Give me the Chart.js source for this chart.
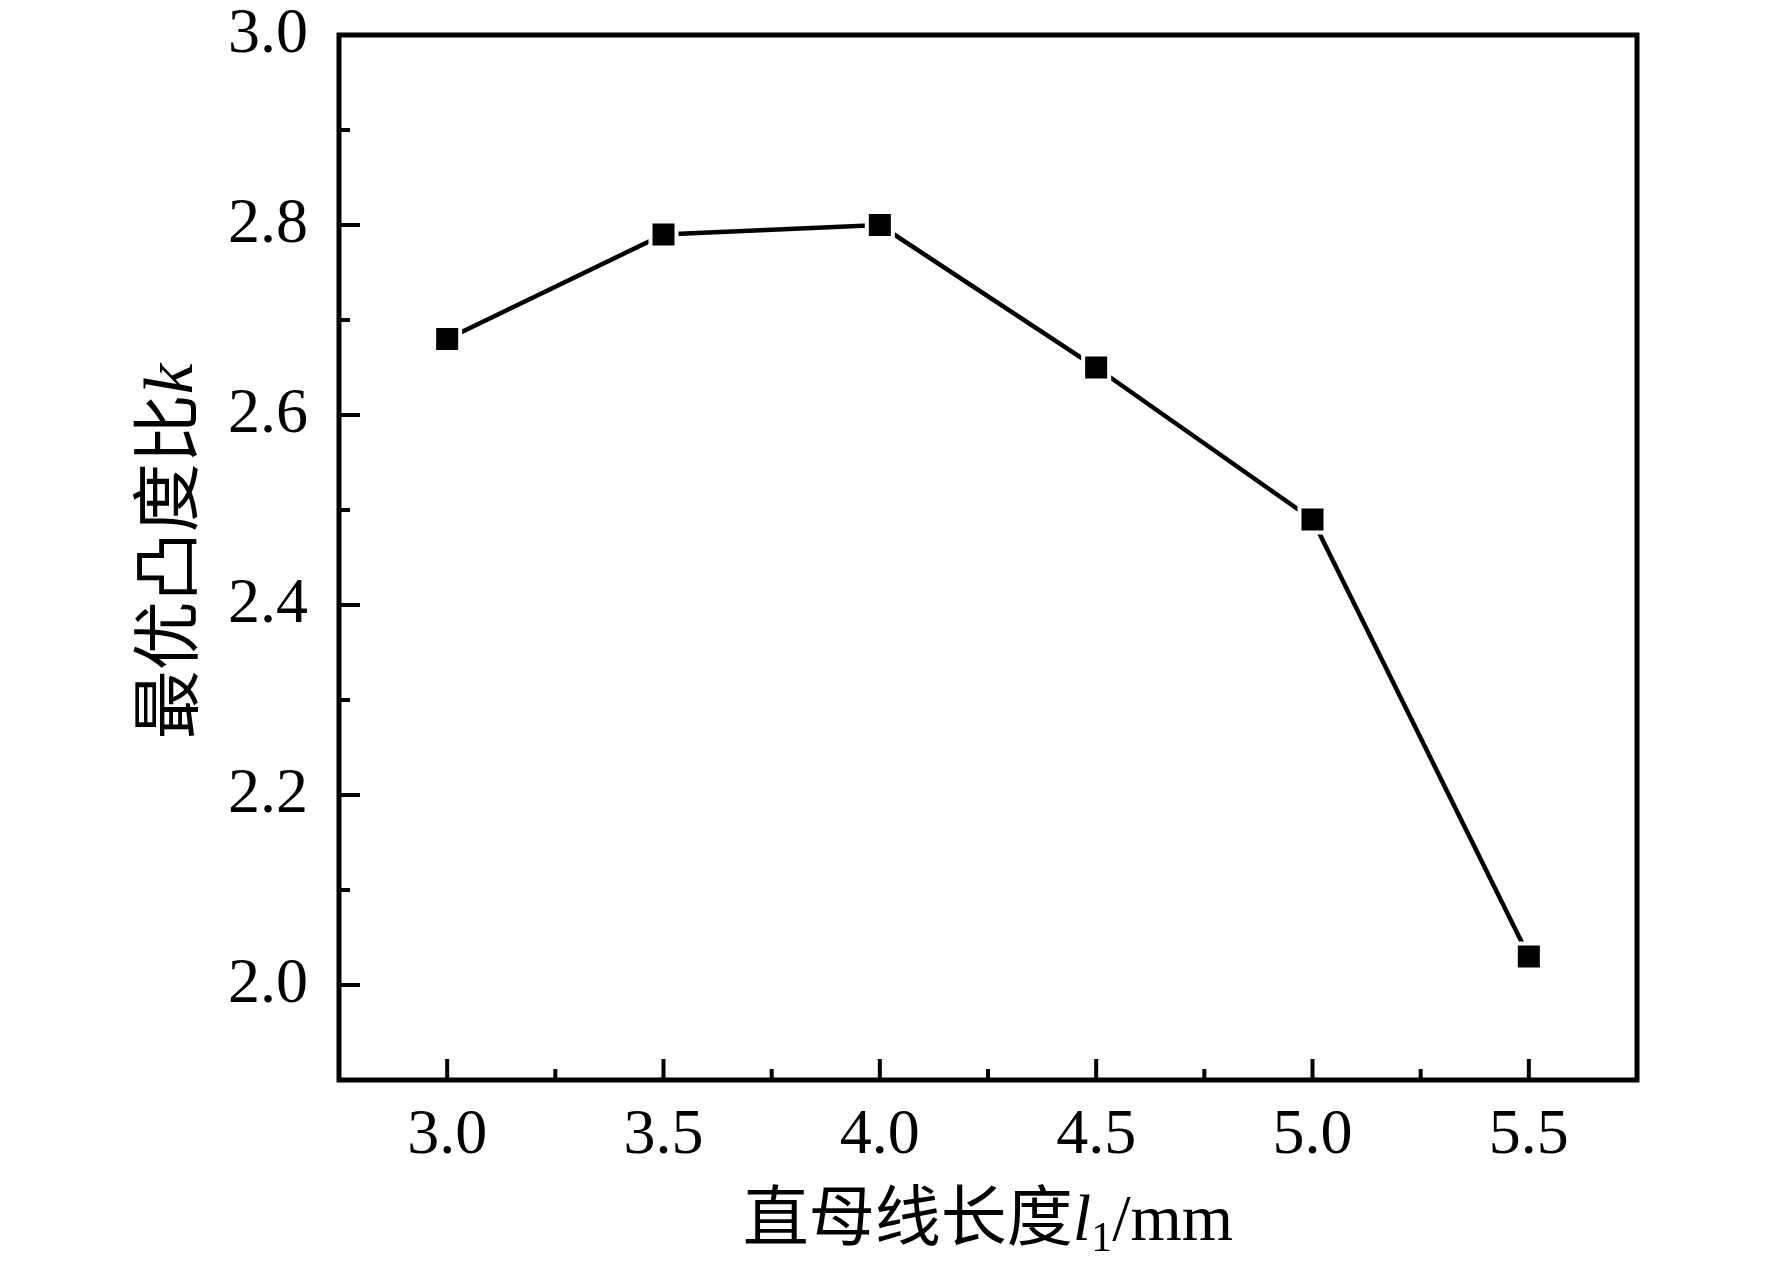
<!DOCTYPE html>
<html><head><meta charset="utf-8">
<script src="https://cdn.jsdelivr.net/npm/chart.js@4.4.0/dist/chart.umd.min.js"></script>
<style>html,body{margin:0;padding:0;background:#fff;}#wrap{width:1772px;height:1272px;}</style>
</head><body><div id="wrap"><canvas id="c" width="1772" height="1272"></canvas></div>
<script>
const xValues = [3.0, 3.5, 4.0, 4.5, 5.0, 5.5];
const kValues = [2.68, 2.79, 2.80, 2.65, 2.49, 2.03];
const xTickLabels = ['3.0', '3.5', '4.0', '4.5', '5.0', '5.5'];
const yTickLabels = ['2.0', '2.2', '2.4', '2.6', '2.8', '3.0'];
const xMinorTicks = [3.25, 3.75, 4.25, 4.75, 5.25];
const yMinorTicks = [2.1, 2.3, 2.5, 2.7, 2.9];
const xTitleParts = [
  {t: '直母线长度', f: '66px "Noto Sans CJK SC"', dy: 0},
  {t: 'l', f: 'italic 66px "Liberation Serif"', dy: 0},
  {t: '1', f: '42px "Liberation Serif"', dy: 11},
  {t: '/mm', f: '66px "Liberation Serif"', dy: 0}
];
const yTitleParts = [
  {t: '最优凸度比', f: '69px "Noto Sans CJK SC"', dy: 0},
  {t: 'k', f: 'italic 69px "Liberation Serif"', dy: 0}
];

const serif = '"Liberation Serif", "Times New Roman", serif';

function drawParts(ctx, parts, cx, baseline) {
  let total = 0;
  parts.forEach(p => { ctx.font = p.f; p.w = ctx.measureText(p.t).width; total += p.w; });
  let x = cx - total / 2;
  ctx.textBaseline = 'alphabetic';
  ctx.textAlign = 'left';
  ctx.fillStyle = '#000';
  parts.forEach(p => { ctx.font = p.f; ctx.fillText(p.t, x, baseline + p.dy); x += p.w; });
}

const framePlugin = {
  id: 'frame',
  afterDraw(chart) {
    const ctx = chart.ctx;
    const a = chart.chartArea;
    const xs = chart.scales.x, ys = chart.scales.y;
    ctx.save();
    ctx.strokeStyle = '#000';
    ctx.lineCap = 'butt';
    ctx.lineWidth = 4;
    const major = 21, minor = 11;
    xTickLabels.forEach(v => {
      const px = xs.getPixelForValue(parseFloat(v));
      ctx.beginPath(); ctx.moveTo(px, a.bottom); ctx.lineTo(px, a.bottom - major); ctx.stroke();
    });
    xMinorTicks.forEach(v => {
      const px = xs.getPixelForValue(v);
      ctx.beginPath(); ctx.moveTo(px, a.bottom); ctx.lineTo(px, a.bottom - minor); ctx.stroke();
    });
    yTickLabels.forEach(v => {
      const py = ys.getPixelForValue(parseFloat(v));
      ctx.beginPath(); ctx.moveTo(a.left, py); ctx.lineTo(a.left + major, py); ctx.stroke();
    });
    yMinorTicks.forEach(v => {
      const py = ys.getPixelForValue(v);
      ctx.beginPath(); ctx.moveTo(a.left, py); ctx.lineTo(a.left + minor, py); ctx.stroke();
    });
    ctx.lineWidth = 5;
    ctx.lineJoin = 'miter';
    ctx.strokeRect(a.left, a.top, a.right - a.left, a.bottom - a.top);
    drawParts(ctx, xTitleParts, (a.left + a.right) / 2, 1240);
    ctx.translate(166, (a.top + a.bottom) / 2 - 6);
    ctx.rotate(-Math.PI / 2);
    drawParts(ctx, yTitleParts, 0, 26);
    ctx.restore();
  }
};

new Chart(document.getElementById('c'), {
  type: 'line',
  data: {
    datasets: [{
      data: xValues.map((x, i) => ({x: x, y: kValues[i]})),
      borderColor: '#000',
      borderWidth: 4.5,
      tension: 0,
      fill: false,
      pointStyle: 'rect',
      pointRadius: 18.4,
      pointHoverRadius: 18.4,
      pointBackgroundColor: '#000',
      pointBorderColor: '#fff',
      pointBorderWidth: 4
    }]
  },
  options: {
    responsive: false,
    devicePixelRatio: 1,
    animation: false,
    layout: {padding: {left: 0, right: 135, top: 35, bottom: 0}},
    plugins: {legend: {display: false}, tooltip: {enabled: false}},
    scales: {
      x: {
        type: 'linear', min: 2.75, max: 5.75,
        afterBuildTicks: s => { s.ticks = xTickLabels.map(v => ({value: parseFloat(v)})); },
        afterFit: s => { s.height = 192; s.paddingLeft = 0; s.paddingRight = 0; },
        ticks: {callback: v => v.toFixed(1), color: '#000', padding: 24, maxRotation: 0,
                font: {family: serif, size: 64, lineHeight: 1}},
        grid: {display: false, drawTicks: false},
        border: {display: false}
      },
      y: {
        type: 'linear', min: 1.9, max: 3.0,
        afterBuildTicks: s => { s.ticks = yTickLabels.map(v => ({value: parseFloat(v)})); },
        afterFit: s => { s.width = 339; s.paddingTop = 0; s.paddingBottom = 0; },
        ticks: {callback: v => v.toFixed(1), color: '#000', padding: 31,
                font: {family: serif, size: 64, lineHeight: 1}},
        grid: {display: false, drawTicks: false},
        border: {display: false}
      }
    }
  },
  plugins: [framePlugin]
});
</script></body></html>
